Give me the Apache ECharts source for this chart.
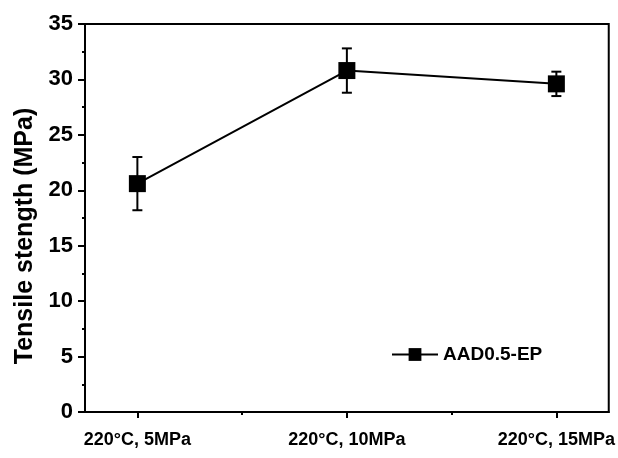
<!DOCTYPE html>
<html>
<head>
<meta charset="utf-8">
<script src="https://cdn.jsdelivr.net/npm/echarts@6/dist/echarts.min.js"></script>
<style>
  html, body { margin: 0; padding: 0; background: #fff; }
  #chart { width: 618px; height: 458px; }
</style>
</head>
<body>
<div id="chart"></div>
<script>
// categories and values
const categories = ['220°C, 5MPa', '220°C, 10MPa', '220°C, 15MPa']
const strength = [20.6, 30.8, 29.6]
const errLow = [18.2, 28.8, 28.5]
const errHigh = [23.0, 32.8, 30.7]
const yTicks = [0, 5, 10, 15, 20, 25, 30, 35]

const font = 'Liberation Sans, Arial, sans-serif'
const chart = echarts.init(document.getElementById('chart'))

const pointData = strength.map((v, i) => [i, v])
const errData = strength.map((v, i) => [i, errLow[i], errHigh[i]])

chart.setOption({
  animation: false,
  grid: {
    left: 85, right: 8, top: 24, bottom: 46,
    show: true,
    borderColor: '#000',
    borderWidth: 2
  },
  legend: {
    data: ['AAD0.5-EP'],
    left: 386,
    top: 340,
    itemWidth: 46,
    itemHeight: 16,
    itemGap: 6,
    textStyle: { fontFamily: font, fontWeight: 'bold', fontSize: 19, color: '#000' }
  },
  xAxis: [
    {
      type: 'value',
      min: -0.25,
      max: 2.25,
      splitLine: { show: false },
      axisLine: { onZero: false, lineStyle: { color: '#000', width: 2 } },
      axisTick: {
        customValues: [0, 1, 2],
        length: 6,
        lineStyle: { color: '#000', width: 2 }
      },
      axisLabel: {
        customValues: [0, 1, 2],
        formatter: v => categories[Math.round(v)],
        margin: 19,
        fontFamily: font,
        fontWeight: 'bold',
        fontSize: 18,
        color: '#000'
      }
    },
    {
      type: 'value',
      position: 'bottom',
      min: -0.25,
      max: 2.25,
      splitLine: { show: false },
      axisLine: { show: false, onZero: false },
      axisTick: {
        customValues: [0.5, 1.5],
        length: 3,
        lineStyle: { color: '#000', width: 2 }
      },
      axisLabel: { show: false }
    }
  ],
  yAxis: {
    type: 'value',
    min: 0,
    max: 35,
    interval: 5,
    name: 'Tensile stength (MPa)',
    nameLocation: 'middle',
    nameGap: 47,
    nameTextStyle: {
      fontFamily: font, fontWeight: 'bold', fontSize: 25, color: '#000',
      padding: [0, 36, 0, 0]
    },
    splitLine: { show: false },
    axisLine: { onZero: false, lineStyle: { color: '#000', width: 2 } },
    axisTick: { length: 7, lineStyle: { color: '#000', width: 2 } },
    minorTick: { show: true, splitNumber: 2, length: 3, lineStyle: { color: '#000', width: 2 } },
    axisLabel: {
      margin: 12,
      fontFamily: font,
      fontWeight: 'bold',
      fontSize: 22,
      color: '#000',
      formatter: v => (yTicks.indexOf(v) >= 0 ? String(v) : '')
    }
  },
  series: [
    {
      name: 'AAD0.5-EP',
      type: 'line',
      data: pointData,
      symbol: 'rect',
      symbolSize: 17,
      lineStyle: { color: '#000', width: 2 },
      itemStyle: { color: '#000' },
      z: 3
    },
    {
      type: 'custom',
      data: errData,
      z: 4,
      renderItem(params, api) {
        const x = api.value(0)
        const lo = api.coord([x, api.value(1)])
        const hi = api.coord([x, api.value(2)])
        const cap = 5
        const style = { stroke: '#000', lineWidth: 2 }
        return {
          type: 'group',
          children: [
            { type: 'line', shape: { x1: lo[0], y1: lo[1], x2: hi[0], y2: hi[1] }, style },
            { type: 'line', shape: { x1: lo[0] - cap, y1: lo[1], x2: lo[0] + cap, y2: lo[1] }, style },
            { type: 'line', shape: { x1: hi[0] - cap, y1: hi[1], x2: hi[0] + cap, y2: hi[1] }, style }
          ]
        }
      }
    }
  ]
})
</script>
</body>
</html>
